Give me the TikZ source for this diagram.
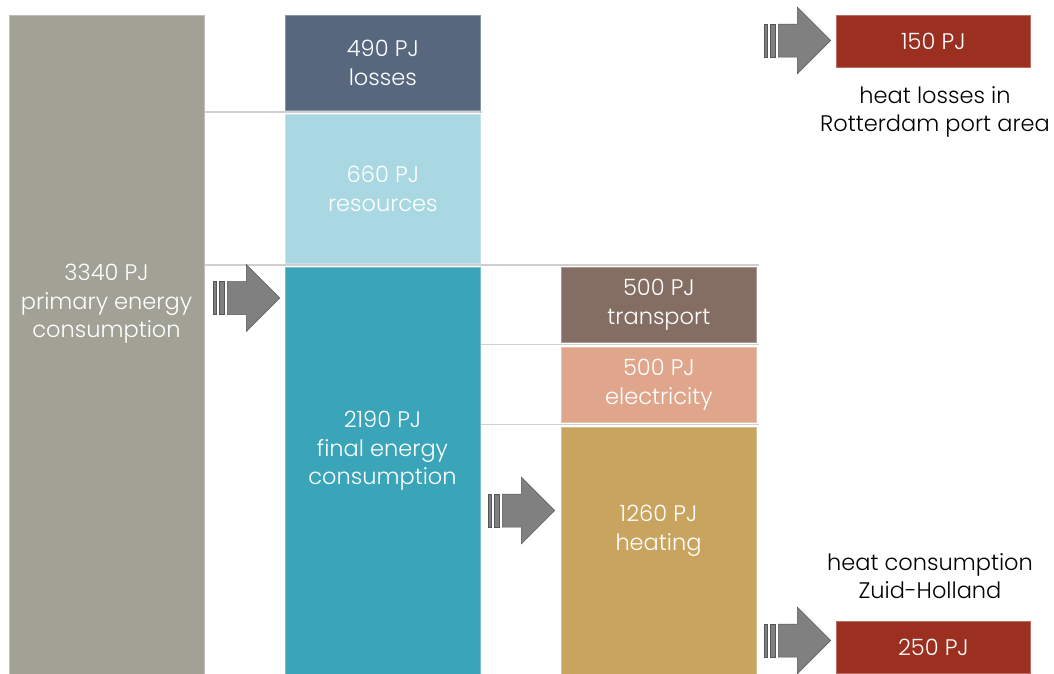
\documentclass[tikz,border=0pt]{standalone}
\usepackage{fontspec}
\setmainfont{Poppins}
\newfontfamily\thinfont{Poppins Light}
\definecolor{cPrimary}{HTML}{A1A295}
\definecolor{cLosses}{HTML}{56677E}
\definecolor{cResources}{HTML}{A9D8E3}
\definecolor{cFinal}{HTML}{3AA4B9}
\definecolor{cTransport}{HTML}{846E63}
\definecolor{cElectricity}{HTML}{E0A68C}
\definecolor{cHeating}{HTML}{C9A45F}
\definecolor{cRed}{HTML}{9B3020}
\definecolor{cDivider}{HTML}{CFCFCF}
\definecolor{cArrow}{HTML}{808080}
\definecolor{cArrowEdge}{HTML}{555555}
\begin{document}
\begin{tikzpicture}[x=1pt,y=-1pt,
  bar/.style={fill=#1, draw=#1!70!white, line width=0.7pt, minimum width=195pt,
    anchor=north west, inner sep=0pt, text=white, align=center,
    font=\thinfont\fontsize{22.5}{28.5}\selectfont},
  inlabel/.style={text=white, align=center, inner sep=0pt,
    font=\thinfont\fontsize{22.5}{28.5}\selectfont},
  note/.style={text=black, align=center, inner sep=0pt,
    font=\thinfont\fontsize{22.5}{28}\selectfont},
  divider/.style={draw=cDivider, line width=1.4pt},
  arrowpart/.style={fill=cArrow, draw=cArrowEdge, line width=0.5pt},
  blockarrow/.pic={
    \filldraw[arrowpart] (0,-16.5) rectangle (3.3,16.5);
    \filldraw[arrowpart] (5.8,-16.5) rectangle (11.6,16.5);
    \filldraw[arrowpart] (14.4,-16.5) -- (33.4,-16.5) -- (33.4,-33.3) -- (66.7,0)
      -- (33.4,33.3) -- (33.4,16.5) -- (14.4,16.5) -- cycle;
  }]
\useasboundingbox (0,0) rectangle (1054,673);

% energy bars
\node[bar=cPrimary, minimum height=670pt] (primary) at (9,15) {};
\node[bar=cLosses, minimum height=95pt] (losses) at (285,15) {490 PJ\\losses};
\node[bar=cResources, minimum height=149pt] (resources) at (285,114) {660 PJ\\resources};
\node[bar=cFinal, minimum height=420pt] (final) at (285,267) {};
\node[bar=cTransport, minimum height=75pt] (transport) at (561,267) {500 PJ\\transport};
\node[bar=cElectricity, minimum height=75pt] (electricity) at (561,347) {500 PJ\\electricity};
\node[bar=cHeating, minimum height=260pt] (heating) at (561,427) {};
\node[bar=cRed, minimum width=194pt, minimum height=52pt] (portloss) at (836,15) {150 PJ};
\node[bar=cRed, minimum width=194pt, minimum height=52pt] (zhheat) at (836,621) {250 PJ};

% labels of the bars running off the bottom edge
\node[inlabel] (primarytext) at (106.5,304) {3340 PJ\\primary energy\\consumption};
\node[inlabel] (finaltext) at (382.5,451) {2190 PJ\\final energy\\consumption};
\node[inlabel] (heatingtext) at (658.5,531) {1260 PJ\\heating};

% separators between the stacked bars
\draw[divider] (primary.east |- 0,112) -- ([xshift=1pt]losses.east |- 0,112);
\draw[divider] (primary.east |- 0,265) -- ([xshift=2pt]transport.east |- 0,265);
\draw[divider] (final.east |- 0,344.5) -- ([xshift=2pt]transport.east |- 0,344.5);
\draw[divider] (final.east |- 0,424.5) -- ([xshift=2pt]transport.east |- 0,424.5);

% flow arrows
\pic at (213,298) {blockarrow};
\pic at (488,510.5) {blockarrow};
\pic at (764,40.5) {blockarrow};
\pic at (764,640.5) {blockarrow};

% captions of the regional figures
\node[note] (portnote) at (935,112) {heat losses in\\Rotterdam port area};
\node[note] (zhnote) at (930,576) {heat consumption\\Zuid-Holland};
\end{tikzpicture}
\end{document}
